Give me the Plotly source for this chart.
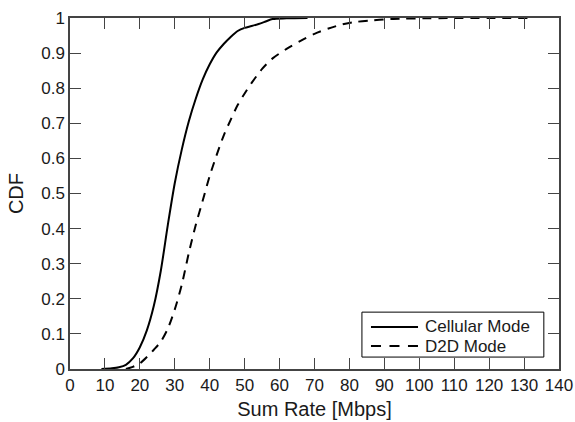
import plotly.graph_objects as go

# CDF of the sum rate, cellular mode
cell_rate = [9, 12, 14, 16, 18, 20, 22, 24, 26, 28, 30, 32, 34, 36, 38, 40, 42,
             44, 46, 48, 50, 52, 54, 56, 58, 62, 68]
cell_cdf = [0, 0.002, 0.005, 0.012, 0.03, 0.062, 0.11, 0.18, 0.28, 0.41, 0.53,
            0.625, 0.705, 0.77, 0.825, 0.868, 0.902, 0.926, 0.946, 0.963, 0.972,
            0.977, 0.983, 0.99, 0.997, 0.999, 1.0]

# CDF of the sum rate, D2D mode
d2d_rate = [16, 18, 20, 22, 24, 26, 28, 30, 32, 34, 36, 38, 40, 42, 44, 46, 48,
            50, 52, 55, 58, 62, 66, 70, 74, 78, 82, 86, 90, 95, 100, 110, 120, 131]
d2d_cdf = [0, 0.006, 0.016, 0.034, 0.055, 0.078, 0.115, 0.17, 0.24, 0.33, 0.41,
           0.48, 0.55, 0.61, 0.665, 0.71, 0.752, 0.785, 0.815, 0.855, 0.885,
           0.912, 0.935, 0.955, 0.97, 0.982, 0.989, 0.993, 0.996, 0.998, 0.999,
           1.0, 1.0, 1.0]

series_names = ["Cellular Mode", "D2D Mode"]
x_ticks = list(range(0, 141, 10))
y_ticks = [i / 10 for i in range(11)]
y_labels = ["0"] + [f"{v:.1f}" for v in y_ticks[1:-1]] + ["1"]

FONT = "Liberation Sans, Arial, sans-serif"
AXIS = "#444444"
TEXT = "#1a1a1a"
DASH = "9px,7px"

fig = go.Figure()
fig.add_trace(go.Scatter(x=cell_rate, y=cell_cdf, mode="lines", name=series_names[0],
                         line=dict(color="black", width=2, shape="spline", smoothing=0.8)))
fig.add_trace(go.Scatter(x=d2d_rate, y=d2d_cdf, mode="lines", name=series_names[1],
                         line=dict(color="black", width=2, dash=DASH,
                                   shape="spline", smoothing=0.8)))

axis_common = dict(showline=True, linecolor=AXIS, linewidth=1.5, mirror="ticks",
                   ticks="inside", ticklen=11, tickwidth=1.2, tickcolor=AXIS,
                   showgrid=False, zeroline=False, automargin=False,
                   tickfont=dict(family=FONT, size=17, color=TEXT))

fig.update_xaxes(range=[0, 140], tickvals=x_ticks,
                 title=dict(text="Sum Rate [Mbps]", font=dict(family=FONT, size=20, color=TEXT),
                            standoff=8),
                 **axis_common)
fig.update_yaxes(range=[0, 1], tickvals=y_ticks, ticktext=y_labels,
                 title=dict(text="CDF", font=dict(family=FONT, size=20, color=TEXT),
                            standoff=12),
                 **axis_common)

# Framed legend in the lower-right corner of the plot area
box = dict(x0=0.597, x1=0.969, y0=0.034, y1=0.162)
rows_y = [0.1197, 0.0655]
sample_x = (0.6155, 0.7117)
text_x = 0.7219
fig.add_shape(type="rect", xref="paper", yref="paper", **box,
              line=dict(color="black", width=1), fillcolor="white", layer="above")
for name, yy, dash in zip(series_names, rows_y, ["solid", "10px,8.5px"]):
    fig.add_shape(type="line", xref="paper", yref="paper",
                  x0=sample_x[0], x1=sample_x[1], y0=yy, y1=yy,
                  line=dict(color="black", width=2, dash=dash), layer="above")
    fig.add_annotation(xref="paper", yref="paper", x=text_x, y=yy, text=name,
                       showarrow=False, xanchor="left", yanchor="middle",
                       font=dict(family=FONT, size=17, color=TEXT))

fig.update_layout(
    width=575, height=422,
    margin=dict(l=70, r=16, t=18, b=53),
    plot_bgcolor="white", paper_bgcolor="white",
    font=dict(family=FONT, color=TEXT),
    showlegend=False,
)

fig.write_html("out.html")
